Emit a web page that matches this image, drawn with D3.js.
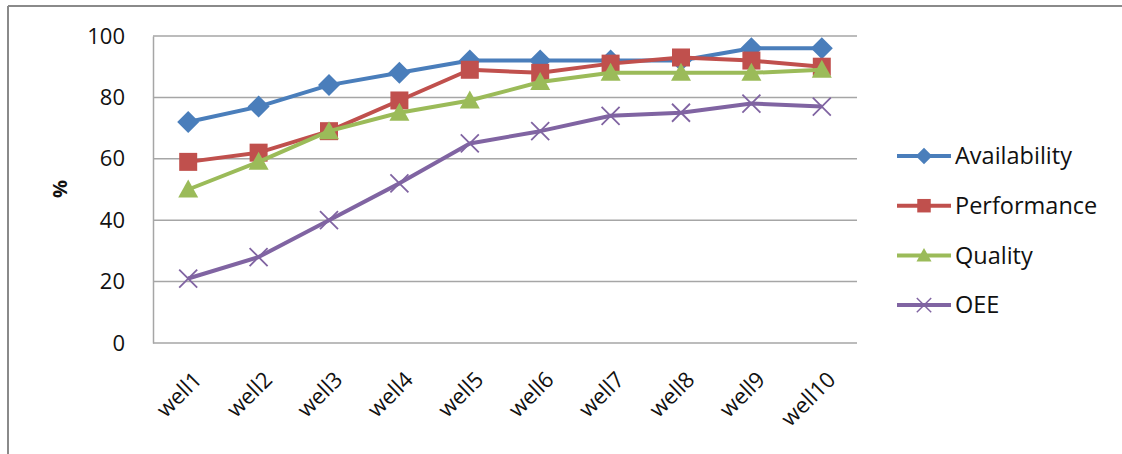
<!DOCTYPE html>
<html>
<head>
<meta charset="utf-8">
<script src="https://cdn.jsdelivr.net/npm/d3@7"></script>
<style>
  html, body { margin: 0; padding: 0; background: #fff; }
  svg { display: block; }
  text { font-family: "Open Sans", "Noto Sans", sans-serif; fill: #111; }
</style>
</head>
<body>
<svg id="chart" width="1122" height="454"></svg>
<script>
// Well names along the x axis
const categories = ["well1", "well2", "well3", "well4", "well5", "well6", "well7", "well8", "well9", "well10"];

// Percentages per well
const availability = [72, 77, 84, 88, 92, 92, 92, 92, 96, 96];
const performance  = [59, 62, 69, 79, 89, 88, 91, 93, 92, 90];
const quality      = [50, 59, 69, 75, 79, 85, 88, 88, 88, 89];
const oee          = [21, 28, 40, 52, 65, 69, 74, 75, 78, 77];

const seriesNames = ["Availability", "Performance", "Quality", "OEE"];
const yTicks = [0, 20, 40, 60, 80, 100];

const seriesList = [
  { name: seriesNames[0], values: availability, color: "#4a7ebb", marker: "diamond" },
  { name: seriesNames[1], values: performance,  color: "#c0504d", marker: "square" },
  { name: seriesNames[2], values: quality,      color: "#9bbb59", marker: "triangle" },
  { name: seriesNames[3], values: oee,          color: "#8064a2", marker: "cross" }
];

const svg = d3.select("#chart");

// Outer chart frame (top and left edges visible)
svg.append("line").attr("x1", 8).attr("y1", 6).attr("x2", 1122).attr("y2", 6)
  .attr("stroke", "#8a8a8a").attr("stroke-width", 2);
svg.append("line").attr("x1", 8).attr("y1", 6).attr("x2", 8).attr("y2", 454)
  .attr("stroke", "#8a8a8a").attr("stroke-width", 2);

const plot = { left: 153, right: 857, top: 36, bottom: 343 };

const x = d3.scaleBand().domain(categories).range([plot.left, plot.right]);
const y = d3.scaleLinear().domain([0, 100]).range([plot.bottom, plot.top]);

// Horizontal gridlines
svg.append("g")
  .selectAll("line")
  .data(yTicks)
  .join("line")
  .attr("x1", plot.left).attr("x2", plot.right)
  .attr("y1", d => y(d)).attr("y2", d => y(d))
  .attr("stroke", "#a6a6a6").attr("stroke-width", 1.5);

// Y axis
const yAxis = svg.append("g")
  .attr("transform", `translate(${plot.left},0)`)
  .call(d3.axisLeft(y).tickValues(yTicks).tickSize(0).tickPadding(28));
yAxis.select(".domain").attr("stroke", "#a6a6a6").attr("stroke-width", 1.5);
yAxis.selectAll("text")
  .style("font-size", "22px")
  .style("font-family", "'Open Sans', sans-serif")
  .attr("fill", "#111");

// Y axis title
svg.append("text")
  .attr("transform", "translate(67,189) rotate(-90)")
  .attr("text-anchor", "middle")
  .style("font-size", "20px")
  .style("font-weight", "bold")
  .text("%");

// X axis labels, rotated
const xAxis = svg.append("g")
  .attr("transform", `translate(0,${plot.bottom})`)
  .call(d3.axisBottom(x).tickSize(0).tickPadding(0));
xAxis.select(".domain").remove();
xAxis.selectAll("text")
  .style("font-size", "22px")
  .style("font-family", "'Open Sans', sans-serif")
  .attr("fill", "#111")
  .attr("text-anchor", "end")
  .attr("y", 0)
  .attr("dy", "0")
  .attr("transform", "translate(15,38) rotate(-45)");

const cx = c => x(c) + x.bandwidth() / 2;

function markerPath(type) {
  switch (type) {
    case "diamond": return "M0,-11L11,0L0,11L-11,0Z";
    case "square": return "M-9,-9H9V9H-9Z";
    case "triangle": return "M0,-10L10,8H-10Z";
    case "cross": return "M-9,-9L9,9M-9,9L9,-9";
  }
}

const line = d3.line().x((d, i) => cx(categories[i])).y(d => y(d));

seriesList.forEach(s => {
  const g = svg.append("g");
  g.append("path")
    .attr("d", line(s.values))
    .attr("fill", "none")
    .attr("stroke", s.color)
    .attr("stroke-width", 4)
    .attr("stroke-linejoin", "round");
  g.selectAll("path.m")
    .data(s.values)
    .join("path")
    .attr("class", "m")
    .attr("d", markerPath(s.marker))
    .attr("transform", (d, i) => `translate(${cx(categories[i])},${y(d)})`)
    .attr("fill", s.marker === "cross" ? "none" : s.color)
    .attr("stroke", s.color)
    .attr("stroke-width", s.marker === "cross" ? 1.8 : 0);
});

// Legend
const legend = svg.append("g");
seriesList.forEach((s, i) => {
  const ly = 156 + i * 49.7;
  const g = legend.append("g").attr("transform", `translate(0,${ly})`);
  g.append("line").attr("x1", 897).attr("x2", 951).attr("y1", 0).attr("y2", 0)
    .attr("stroke", s.color).attr("stroke-width", 4);
  const scale = s.marker === "cross" ? 0.8 : 0.75;
  g.append("path")
    .attr("d", markerPath(s.marker))
    .attr("transform", `translate(924,0) scale(${scale})`)
    .attr("fill", s.marker === "cross" ? "none" : s.color)
    .attr("stroke", s.color)
    .attr("stroke-width", s.marker === "cross" ? 1.8 : 0);
  g.append("text")
    .attr("x", 955).attr("y", 0).attr("dy", "0.35em")
    .style("font-size", "23.5px")
    .text(s.name);
});
</script>
</body>
</html>
